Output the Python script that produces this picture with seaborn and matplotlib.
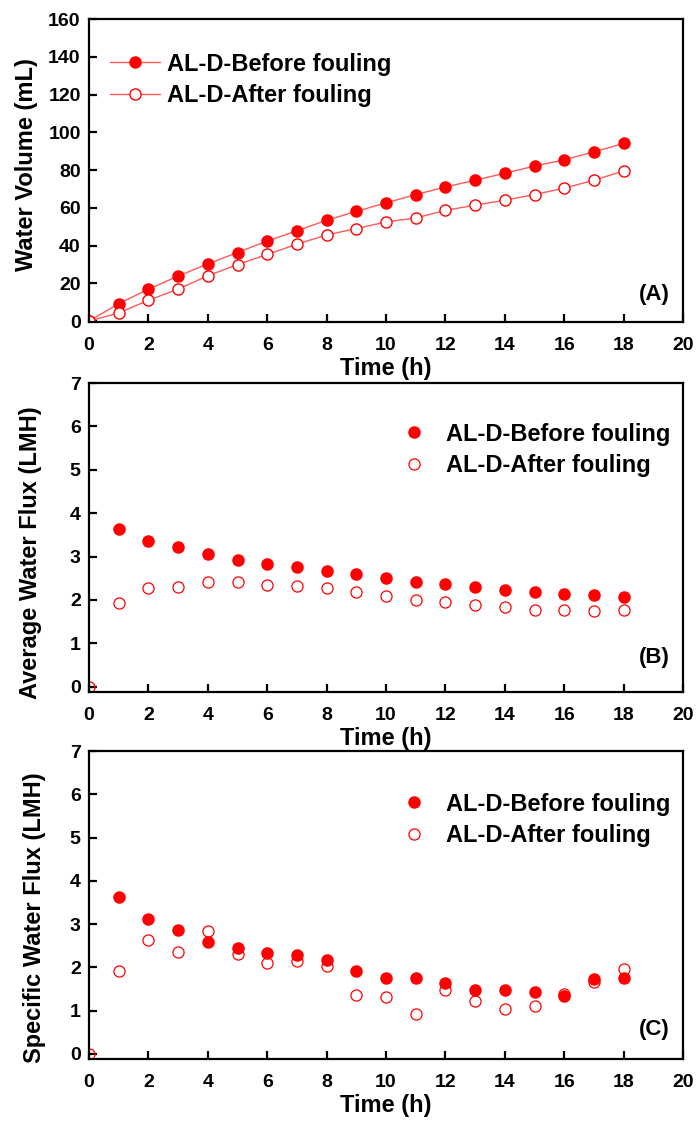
import numpy as np
import pandas as pd
import matplotlib
matplotlib.use("Agg")
import matplotlib.pyplot as plt
from matplotlib.lines import Line2D
import seaborn as sns

time_h = list(range(0, 19))

vol_before = [0, 9.2, 16.9, 23.8, 30.3, 36.3, 42.4, 47.8, 53.4, 58.1, 62.6,
              67.0, 71.0, 74.6, 78.3, 82.1, 85.4, 89.6, 94.1]
vol_after = [0, 4.3, 11.0, 16.9, 24.0, 29.9, 35.3, 40.7, 45.6, 49.0, 52.5,
             54.6, 58.6, 61.4, 64.0, 67.0, 70.4, 74.6, 79.5]

# no "before" flux point is shown at t = 0 in panels B and C
avg_before = [np.nan, 3.63, 3.37, 3.21, 3.05, 2.92, 2.82, 2.75, 2.67, 2.59, 2.50,
              2.42, 2.38, 2.29, 2.23, 2.18, 2.13, 2.11, 2.08]
avg_after = [0, 1.92, 2.27, 2.30, 2.42, 2.41, 2.35, 2.33, 2.28, 2.18, 2.09,
             1.99, 1.95, 1.89, 1.83, 1.78, 1.76, 1.75, 1.76]

spec_before = [np.nan, 3.63, 3.11, 2.87, 2.58, 2.45, 2.32, 2.28, 2.17, 1.91, 1.75,
               1.75, 1.63, 1.47, 1.47, 1.44, 1.34, 1.72, 1.75]
spec_after = [0, 1.91, 2.63, 2.35, 2.83, 2.31, 2.11, 2.15, 2.03, 1.35, 1.31,
              0.91, 1.47, 1.23, 1.03, 1.11, 1.39, 1.65, 1.95]

label_before = "AL-D-Before fouling"
label_after = "AL-D-After fouling"
ylabels = ["Water Volume (mL)", "Average Water Flux (LMH)", "Specific Water Flux (LMH)"]
panel_tags = ["(A)", "(B)", "(C)"]
xlabel = "Time (h)"

sns.set_theme(style="white")
plt.rcParams['font.family'] = ['Liberation Sans', 'DejaVu Sans']
plt.rcParams['font.weight'] = 'bold'
for k in ("text.color", "axes.labelcolor", "xtick.color", "ytick.color"):
    plt.rcParams[k] = "black"

RED = "#ff0000"
LINE_RED = "#ff5a5a"
TICK_FS = 14
LAB_FS = 17
LEG_FS = 17
MS = 8

fig = plt.figure(figsize=(6.96, 11.22), dpi=100)
W, H = 696, 1122
def add_ax(top, bottom, left=89, right=683):
    return fig.add_axes([left / W, 1 - bottom / H, (right - left) / W, (bottom - top) / H])

axA = add_ax(19, 322)
axB = add_ax(383, 692)
axC = add_ax(751, 1059)

dfA = pd.DataFrame({"t": time_h, "before": vol_before, "after": vol_after})
dfB = pd.DataFrame({"t": time_h, "before": avg_before, "after": avg_after})
dfC = pd.DataFrame({"t": time_h, "before": spec_before, "after": spec_after})

# Panel A: lines with markers
sns.lineplot(data=dfA, x="t", y="before", ax=axA, estimator=None, sort=False,
             color=LINE_RED, linewidth=1.0, marker="o", markersize=MS,
             markerfacecolor=RED, markeredgecolor=RED, markeredgewidth=1.0)
sns.lineplot(data=dfA, x="t", y="after", ax=axA, estimator=None, sort=False,
             color=LINE_RED, linewidth=1.0, marker="o", markersize=MS,
             markerfacecolor="white", markeredgecolor=RED, markeredgewidth=1.0)

for ax, df in [(axB, dfB), (axC, dfC)]:
    sns.lineplot(data=df.dropna(), x="t", y="before", ax=ax, estimator=None, sort=False,
                 linestyle="none", marker="o", markersize=MS,
                 markerfacecolor=RED, markeredgecolor=RED, markeredgewidth=1.0)
    sns.lineplot(data=df, x="t", y="after", ax=ax, estimator=None, sort=False,
                 linestyle="none", marker="o", markersize=MS,
                 markerfacecolor="none", markeredgecolor=RED, markeredgewidth=0.9)

axA.set_ylim(-0.5, 160)
axA.set_yticks(range(0, 161, 20))
axB.set_ylim(-0.12, 7)
axC.set_ylim(-0.12, 7)
for ax in (axB, axC):
    ax.set_yticks(range(0, 8))

label_pos = [(-0.086, 0.518), (-0.079, 0.45), (-0.073, 0.46)]
tag_pos = [0.056, 0.078, 0.062]
for ax, yl, tag, lp, tp in zip((axA, axB, axC), ylabels, panel_tags, label_pos, tag_pos):
    ax.set_xlim(0, 20)
    ax.set_xticks(range(0, 21, 2))
    ax.set_xlabel(xlabel, fontsize=LAB_FS, fontweight="bold", labelpad=2.5)
    ax.set_ylabel(yl, fontsize=LAB_FS, fontweight="bold")
    ax.yaxis.set_label_coords(*lp)
    ax.tick_params(axis="both", direction="in", length=6, width=1.6,
                   labelsize=TICK_FS, colors="black",
                   bottom=True, left=True, top=False, right=False)
    ax.tick_params(axis="x", pad=10.5)
    ax.tick_params(axis="y", pad=6)
    for lab in ax.get_xticklabels() + ax.get_yticklabels():
        lab.set_fontweight("bold")
    for sp in ax.spines.values():
        sp.set_linewidth(1.6)
        sp.set_color("black")
        sp.set_visible(True)
    ax.text(0.978, tp, tag, transform=ax.transAxes, ha="right", va="bottom",
            fontsize=16, fontweight="bold")
    ax.set_facecolor("white")

# Legends
hA = [Line2D([], [], color=LINE_RED, lw=1.0, marker="o", ms=MS, mfc=RED, mec=RED),
      Line2D([], [], color=LINE_RED, lw=1.0, marker="o", ms=MS, mfc="white", mec=RED)]
axA.legend(hA, [label_before, label_after], loc="upper left", bbox_to_anchor=(0.035, 0.889),
           frameon=False, prop={"size": LEG_FS, "weight": "bold"}, handlelength=2.12,
           handletextpad=0.3, labelspacing=0.36, borderaxespad=0, borderpad=0)

hB = [Line2D([], [], linestyle="none", marker="o", ms=MS, mfc=RED, mec=RED),
      Line2D([], [], linestyle="none", marker="o", ms=MS, mfc="none", mec=RED, mew=0.9)]
for ax, ytop in ((axB, 0.872), (axC, 0.865)):
    ax.legend(hB, [label_before, label_after], loc="upper left", bbox_to_anchor=(0.527, ytop),
              frameon=False, prop={"size": LEG_FS, "weight": "bold"}, handlelength=1.0,
              handletextpad=0.86, labelspacing=0.36, borderaxespad=0, borderpad=0)

fig.savefig("out.png", dpi=100, facecolor="white")
